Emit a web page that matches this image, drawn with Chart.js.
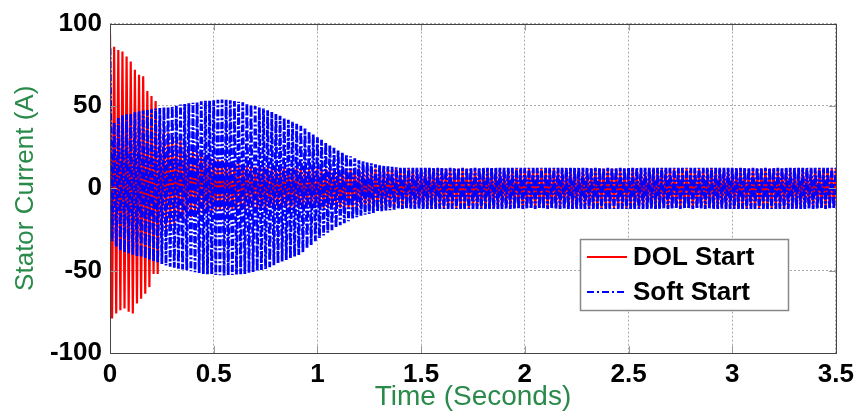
<!DOCTYPE html>
<html>
<head>
<meta charset="utf-8">
<title>Stator Current</title>
<script src="https://cdn.jsdelivr.net/npm/chart.js@4.4.1/dist/chart.umd.min.js"></script>
<style>
    html, body { margin: 0; padding: 0; background: #fff; }
    #wrap { width: 860px; height: 414px; position: relative; }
</style>
</head>
<body>
<div id="wrap"><canvas id="currentChart"></canvas></div>
<script>
// supply frequency (Hz) and length of the run (s)
const lineFreq = 50;
const tEnd = 3.5;

// axis ticks
const xTicks = [0, 0.5, 1, 1.5, 2, 2.5, 3, 3.5];
const yTicks = [-100, -50, 0, 50, 100];

// DOL start: first half-cycle peaks (A), one per 10 ms
const dolPeaks = [94, -79, 86, -76, 84, -74, 83, -73, 80, -75, 77, -76,
                  72, -70, 69, -67, 68, -64, 59, -60, 56, -52, 53, -52];
// DOL start after the inrush: envelope of the current
const dolTimes = [0.24, 0.30, 0.40, 0.50, 0.70, 1.00, 3.50];
const dolUpper = [38, 32, 24, 18, 13, 12, 12];
const dolLower = [-28, -22, -17, -14, -12, -12, -12];

// soft start: envelope of the current
const softTimes = [0, 0.02, 0.05, 0.15, 0.30, 0.45, 0.55, 0.65, 0.75, 0.82, 0.92, 1.00, 1.10, 1.20, 1.30, 1.40, 3.50];
const softUpper = [85, 40, 44, 47, 50, 53, 54, 52, 48, 44, 38, 31, 23, 17, 14, 12.5, 12.5];
const softLower = [-30, -34, -38, -42, -48, -52, -53, -52, -49, -45, -40, -31, -23, -17, -14, -12.5, -12.5];

const envelopeAt = (t, times, vals) => {
    if (t <= times[0]) return vals[0];
    for (let i = 1; i < times.length; i++) {
        if (t <= times[i]) {
            const f = (t - times[i - 1]) / (times[i] - times[i - 1]);
            return vals[i - 1] + f * (vals[i] - vals[i - 1]);
        }
    }
    return vals[vals.length - 1];
};

// one point per half cycle: positive peak, then negative peak
const buildWave = (peaks, times, upper, lower) => {
    const half = 1 / (2 * lineFreq);
    const n = Math.round(tEnd / half);
    const pts = [];
    for (let k = 0; k <= n; k++) {
        const t = k * half;
        let y;
        if (k < peaks.length) {
            y = peaks[k];
        } else {
            y = envelopeAt(t, times, k % 2 === 0 ? upper : lower);
        }
        pts.push({ x: t, y: y });
    }
    return pts;
};

const dolData = buildWave(dolPeaks, dolTimes, dolUpper, dolLower);
const softData = buildWave([], softTimes, softUpper, softLower);

const tickFont = { family: 'Liberation Sans, Arial, sans-serif', size: 26, weight: 'bold' };
const titleFont = { family: 'Liberation Sans, Arial, sans-serif', size: 26 };
const green = '#2a8a4a';
const dashDot = [7, 2, 2, 2];

// box round the plot, inward tick marks and the legend
const framePlugin = {
    id: 'frame',
    afterDraw(chart) {
        const ctx = chart.ctx;
        const a = chart.chartArea;
        const xs = chart.scales.x;
        const ys = chart.scales.y;
        ctx.save();

        ctx.strokeStyle = '#999';
        ctx.lineWidth = 1;
        ctx.beginPath();
        xTicks.forEach(v => {
            const px = Math.round(xs.getPixelForValue(v)) + 0.5;
            ctx.moveTo(px, a.top); ctx.lineTo(px, a.top + 7);
            ctx.moveTo(px, a.bottom); ctx.lineTo(px, a.bottom - 7);
        });
        yTicks.forEach(v => {
            const py = Math.round(ys.getPixelForValue(v)) + 0.5;
            ctx.moveTo(a.left, py); ctx.lineTo(a.left + 7, py);
            ctx.moveTo(a.right, py); ctx.lineTo(a.right - 7, py);
        });
        ctx.stroke();

        ctx.strokeStyle = '#444';
        ctx.strokeRect(Math.round(a.left) + 0.5, Math.round(a.top) + 0.5,
                       Math.round(a.right - a.left), Math.round(a.bottom - a.top));

        // legend
        const bx = 580, by = 239, bw = 208, bh = 71;
        ctx.fillStyle = '#fff';
        ctx.fillRect(bx, by, bw, bh);
        ctx.strokeStyle = '#888';
        ctx.lineWidth = 1.5;
        ctx.strokeRect(bx + 0.5, by + 0.5, bw, bh);

        ctx.lineWidth = 2;
        ctx.strokeStyle = '#ff0000';
        ctx.beginPath(); ctx.moveTo(587, 257); ctx.lineTo(627, 257); ctx.stroke();
        ctx.strokeStyle = '#0000ff';
        ctx.setLineDash([7, 3, 2, 3]);
        ctx.beginPath(); ctx.moveTo(587, 292); ctx.lineTo(627, 292); ctx.stroke();
        ctx.setLineDash([]);

        ctx.fillStyle = '#000';
        ctx.font = 'bold 26px "Liberation Sans", Arial, sans-serif';
        ctx.textBaseline = 'middle';
        ctx.textAlign = 'left';
        ctx.fillText('DOL Start', 633, 258);
        ctx.fillText('Soft Start', 633, 293);
        ctx.restore();
    }
};

new Chart(document.getElementById('currentChart'), {
    type: 'line',
    data: {
        datasets: [{
            label: 'DOL Start',
            data: dolData,
            borderColor: '#ff0000',
            borderWidth: 2.2,
            order: 1
        }, {
            label: 'Soft Start',
            data: softData,
            borderColor: '#0000ff',
            borderWidth: 2.8,
            borderDash: dashDot,
            order: 0 // drawn on top of the DOL trace
        }]
    },
    options: {
        responsive: true,
        maintainAspectRatio: false,
        animation: false,
        events: [],
        layout: { padding: { top: 19, right: 22, left: 0, bottom: 0 } },
        elements: {
            point: { radius: 0 },
            line: { tension: 0, fill: false }
        },
        plugins: {
            legend: { display: false },
            tooltip: { enabled: false }
        },
        scales: {
            x: {
                type: 'linear',
                min: 0,
                max: tEnd,
                afterBuildTicks: (scale) => { scale.ticks = xTicks.map(v => ({ value: v })); },
                afterFit: (scale) => { scale.height = 61; },
                ticks: { font: tickFont, color: '#000', padding: 6, maxRotation: 0, callback: (v) => String(v) },
                grid: { color: '#aaa', drawTicks: false },
                border: { display: false, dash: [2, 2] },
                title: { display: true, text: 'Time (Seconds)', color: green, font: { ...titleFont, size: 28 }, padding: 0 }
            },
            y: {
                min: -100,
                max: 100,
                afterBuildTicks: (scale) => { scale.ticks = yTicks.map(v => ({ value: v })); },
                afterFit: (scale) => { scale.width = 110; },
                ticks: { font: tickFont, color: '#000', padding: 8, callback: (v) => String(v) },
                grid: { color: '#aaa', drawTicks: false },
                border: { display: false, dash: [2, 2] },
                title: { display: true, text: 'Stator Current (A)', color: green, font: titleFont, padding: { top: 10 } }
            }
        }
    },
    plugins: [framePlugin]
});
</script>
</body>
</html>
